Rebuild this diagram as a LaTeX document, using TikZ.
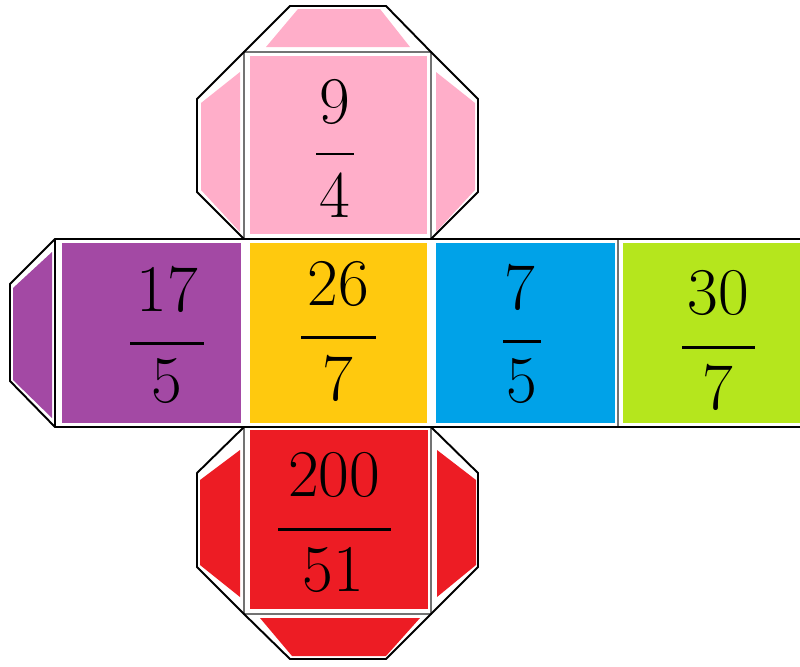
\documentclass[tikz,border=0pt]{standalone}
\definecolor{dicepink}{RGB}{255,174,201}
\definecolor{dicepurple}{RGB}{163,73,164}
\definecolor{dicegold}{RGB}{255,201,14}
\definecolor{diceblue}{RGB}{0,162,232}
\definecolor{dicelime}{RGB}{181,230,29}
\definecolor{dicered}{RGB}{237,28,36}
\begin{document}
\begin{tikzpicture}[x=0.02cm,y=-0.02cm,
  outline/.style={draw=black,line width=1.1pt,line join=round},
  fold/.style={draw=black!55,line width=1pt},
  digit/.style={inner sep=0pt,font=\fontsize{38}{40}\selectfont},
  bar/.style={line width=1.7pt}]
\useasboundingbox (0,0) rectangle (800,666);

% faces
\fill[dicepink] (250,56) rectangle (427,234);
\fill[dicepurple] (62,243) rectangle (241,423);
\fill[dicegold] (250,243) rectangle (427,423);
\fill[diceblue] (436,243) rectangle (615,423);
\fill[dicelime] (623,243) rectangle (800,423);
\fill[dicered] (250,430) rectangle (428,609);

% tabs
\fill[dicepink] (266,47) -- (298,9) -- (380,9) -- (410,47) -- cycle;
\fill[dicepink] (201,103) -- (240,72) -- (240,232) -- (201,190) -- cycle;
\fill[dicepink] (436,72) -- (475,103) -- (475,190) -- (436,232) -- cycle;
\fill[dicepurple] (13,288) -- (52,252) -- (52,418) -- (13,380) -- cycle;
\fill[dicered] (200,480) -- (240,450) -- (240,597) -- (200,565) -- cycle;
\fill[dicered] (437,450) -- (476,480) -- (476,565) -- (437,597) -- cycle;
\fill[dicered] (260,618) -- (292,656) -- (386,656) -- (420,618) -- cycle;

% fold lines
\draw[fold] (244,52) rectangle (431,239);
\draw[fold] (244,427) rectangle (431,614);
\draw[fold] (618,239) -- (618,427);

% outline of the net
\draw[outline] (244,239) -- (197,192) -- (197,99) -- (244,52) -- (290,6)
  -- (386,6) -- (431,52) -- (478,99) -- (478,192) -- (431,239);
\draw[outline] (244,427) -- (197,473) -- (197,567) -- (244,614) -- (290,659)
  -- (386,659) -- (431,614) -- (478,567) -- (478,473) -- (431,427);
\draw[outline] (800,239) -- (55,239) -- (10,284) -- (10,381) -- (55,427) -- (800,427);
\draw[outline] (55,239) -- (55,427);

% fractions
\node[digit] (topnum) at (335,102) {9};
\node[digit] (topden) at (335,195) {4};
\draw[bar] (316,154) -- (354,154);

\node[digit] (leftnum) at (167,289) {17};
\node[digit] (leftden) at (167,381) {5};
\draw[bar] (130,343) -- (204,343);

\node[digit] (midnum) at (338,284) {26};
\node[digit] (midden) at (338,378) {7};
\draw[bar] (301,337) -- (376,337);

\node[digit] (rightnum) at (520,287) {7};
\node[digit] (rightden) at (522,381) {5};
\draw[bar] (503,341) -- (541,341);

\node[digit] (backnum) at (718,293) {30};
\node[digit] (backden) at (718,387) {7};
\draw[bar] (682,347) -- (755,347);

\node[digit] (botnum) at (334,475) {200};
\node[digit] (botden) at (333,570) {51};
\draw[bar] (278,529) -- (391,529);
\end{tikzpicture}
\end{document}
